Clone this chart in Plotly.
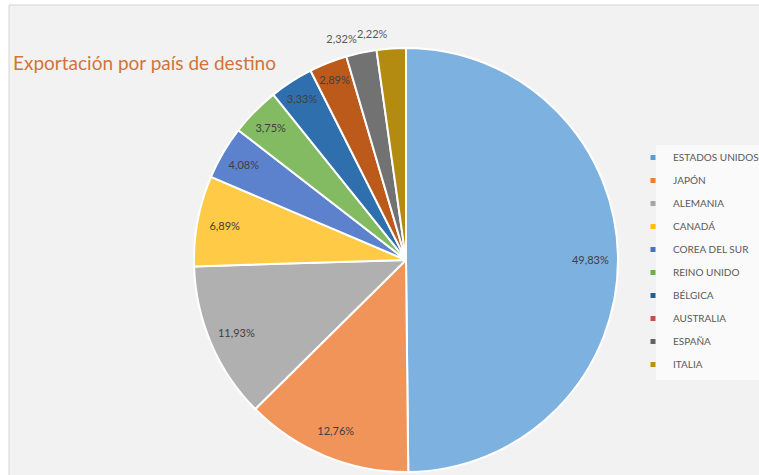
import plotly.graph_objects as go

countries = ["ESTADOS UNIDOS", "JAPÓN", "ALEMANIA", "CANADÁ", "COREA DEL SUR",
             "REINO UNIDO", "BÉLGICA", "AUSTRALIA", "ESPAÑA", "ITALIA"]
shares = [49.83, 12.76, 11.93, 6.89, 4.08, 3.75, 3.33, 2.89, 2.32, 2.22]
slice_colors = ["#7DB1E0", "#F0945A", "#B0B0B0", "#FFCA45", "#5C82CE",
                "#82BB62", "#2F6FAE", "#BC5A1C", "#727272", "#B38B10"]
legend_colors = ["#5B9BD5", "#ED7D31", "#A5A5A5", "#FFC000", "#4472C4",
                 "#70AD47", "#255E91", "#C0504D", "#636363", "#BF9000"]
outside_labels = ["ESPAÑA", "ITALIA"]   # labels drawn outside the pie
title_text = "Exportación por país de destino"

W, H = 759, 475
cx, cy, r = 406, 260, 212


def dom(rad):
    return dict(x=[(cx - rad) / W, (cx + rad) / W],
                y=[max(0, 1 - (cy + rad) / H), min(1, 1 - (cy - rad) / H)])


clear = ["rgba(0,0,0,0)"] * len(countries)
fmt = "%{value:.2f}%"

fig = go.Figure()
# visible pie
fig.add_trace(go.Pie(
    labels=countries, values=shares, sort=False, direction="clockwise",
    marker=dict(colors=slice_colors, line=dict(color="white", width=2)),
    textinfo="none", showlegend=False, hoverinfo="label+percent", domain=dom(r),
))
# transparent ring that places the inside labels near the outer edge
fig.add_trace(go.Pie(
    labels=countries, values=shares, sort=False, direction="clockwise", hole=0.74,
    marker=dict(colors=clear, line=dict(width=0)),
    texttemplate=[("" if c in outside_labels else fmt) for c in countries],
    textposition=[("none" if c in outside_labels else "inside") for c in countries],
    insidetextorientation="horizontal",
    insidetextfont=dict(family="Lato", size=11, color="#404040"),
    showlegend=False, hoverinfo="skip", domain=dom(r),
))
# one transparent pie per outside label, so the labels are not stacked
for k, name in enumerate(outside_labels):
    fig.add_trace(go.Pie(
        labels=countries, values=shares, sort=False, direction="clockwise",
        marker=dict(colors=clear, line=dict(width=0)),
        texttemplate=[(fmt if c == name else "") for c in countries],
        textposition=[("outside" if c == name else "none") for c in countries],
        outsidetextfont=dict(family="Lato", size=11, color="#595959"),
        showlegend=False, hoverinfo="skip", domain=dom(r + 8 + k),
    ))

for name, col in zip(countries, legend_colors):
    fig.add_trace(go.Scatter(
        x=[None], y=[None], mode="markers", name=name, legendgroup=name,
        marker=dict(symbol="square", size=5, color=col), showlegend=True,
    ))

fig.update_layout(
    width=W, height=H, margin=dict(l=0, r=0, t=0, b=0, autoexpand=False),
    paper_bgcolor="white", plot_bgcolor="rgba(0,0,0,0)",
    separators=",.",
    xaxis=dict(visible=False), yaxis=dict(visible=False),
    shapes=[dict(type="rect", xref="paper", yref="paper", layer="below",
                 x0=9 / W, x1=1.02, y0=-0.02, y1=1 - 5 / H,
                 fillcolor="#F2F2F2", line=dict(color="#D4D4D4", width=1)),
            dict(type="rect", xref="paper", yref="paper", layer="below",
                 x0=656 / W, x1=1.01, y0=1 - 380 / H, y1=1 - 145 / H,
                 fillcolor="#FAFAFA", line=dict(width=0))],
    annotations=[dict(text=title_text, xref="paper", yref="paper",
                      x=11 / W, y=1 - 62 / H, xanchor="left", yanchor="middle",
                      showarrow=False,
                      font=dict(family="Lato", size=19, color="#D2733A"))],
    legend=dict(x=633 / W, y=1 - 143 / H, xanchor="left", yanchor="top",
                bgcolor="rgba(0,0,0,0)", font=dict(family="Lato", size=10, color="#595959"),
                traceorder="grouped", tracegroupgap=4, itemclick=False),
)

fig.write_html("out.html")
